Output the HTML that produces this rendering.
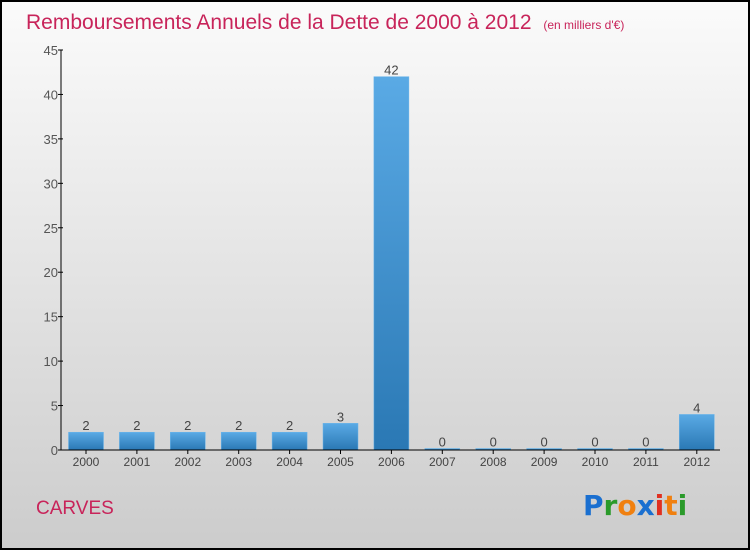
<!DOCTYPE html>
<html><head><meta charset="utf-8"><style>
html,body{margin:0;padding:0}
body{width:750px;height:550px;overflow:hidden}
svg{display:block;font-family:"Liberation Sans",sans-serif}
</style></head><body>
<svg width="750" height="550" viewBox="0 0 750 550">
<defs>
<linearGradient id="bg" x1="0" y1="0" x2="0" y2="1"><stop offset="0" stop-color="#fbfbfb"/><stop offset="1" stop-color="#cccccc"/></linearGradient>
<linearGradient id="bar" x1="0" y1="0" x2="0" y2="1"><stop offset="0" stop-color="#5aaae5"/><stop offset="1" stop-color="#2a78b4"/></linearGradient>
</defs>
<rect x="1" y="1" width="748" height="548" fill="url(#bg)" stroke="#000" stroke-width="2"/>
<text x="26" y="29" font-size="21" fill="#c8245a">Remboursements Annuels de la Dette de 2000 à 2012 <tspan font-size="12" dx="6">(en milliers d'€)</tspan></text>
<g id="yaxis"></g>
<g id="bars"></g>
<g id="xaxis"></g>
<text x="36" y="514" font-size="19" fill="#c8245a">CARVES</text>
<g font-size="28" font-weight="bold" font-family="'DejaVu Sans',sans-serif">
<text x="583" y="515"><tspan fill="#1a6fd0">P</tspan><tspan fill="#2a9a2a">r</tspan><tspan fill="#f08010">o</tspan><tspan fill="#1a6fd0">x</tspan><tspan fill="#e03020">i</tspan><tspan fill="#f08010">t</tspan><tspan fill="#2a9a2a">i</tspan></text>
</g>
</svg>
<script>
const categories=["2000","2001","2002","2003","2004","2005","2006","2007","2008","2009","2010","2011","2012"];
const values=[2,2,2,2,2,3,42,0,0,0,0,0,4];
const yTicks=[0,5,10,15,20,25,30,35,40,45];
const NS="http://www.w3.org/2000/svg";
const x0=61,y0=450,yTop=50,yMax=45,step=50.9,first=86,bw=35;
const yS=v=>y0-(v/yMax)*(y0-yTop);
const xS=i=>first+i*step;
function mk(t,a,p){const e=document.createElementNS(NS,t);for(const k in a)e.setAttribute(k,a[k]);p.appendChild(e);return e;}
const ya=document.getElementById('yaxis'),ba=document.getElementById('bars'),xa=document.getElementById('xaxis');
let l=mk('line',{x1:x0,y1:yTop,x2:x0,y2:y0,stroke:'#000','stroke-width':1},ya);


yTicks.forEach(v=>{const y=yS(v);
 const t=mk('line',{x1:x0-3,y1:y,x2:x0+2,y2:y,stroke:'#000'},ya);
 
 
 const tx=mk('text',{x:x0-3,y:y+5,'font-size':13,fill:'#555','text-anchor':'end'},ya);
 tx.textContent=v;
 
 
});
values.forEach((v,i)=>{const cx=xS(i);const y=v>0?yS(v):y0-1.5;
 const r=mk('rect',{x:cx-bw/2,y:y,width:bw,height:y0-y,fill:'url(#bar)',stroke:'#6ab4ea','stroke-width':0.5},ba);
 
 
 const tx=mk('text',{x:cx,y:y-2,'font-size':13,fill:'#444','text-anchor':'middle'},ba);
 tx.textContent=v;
 
 
 const t=mk('line',{x1:cx,y1:y0,x2:cx,y2:y0+4,stroke:'#000'},xa);
 
 
 const lb=mk('text',{x:cx,y:y0+16,'font-size':12,fill:'#444','text-anchor':'middle'},xa);
 lb.textContent=categories[i];
 
 
});
const xl=mk('line',{x1:x0,y1:y0,x2:720,y2:y0,stroke:'#000','stroke-width':1},xa);


</script>
</body></html>
